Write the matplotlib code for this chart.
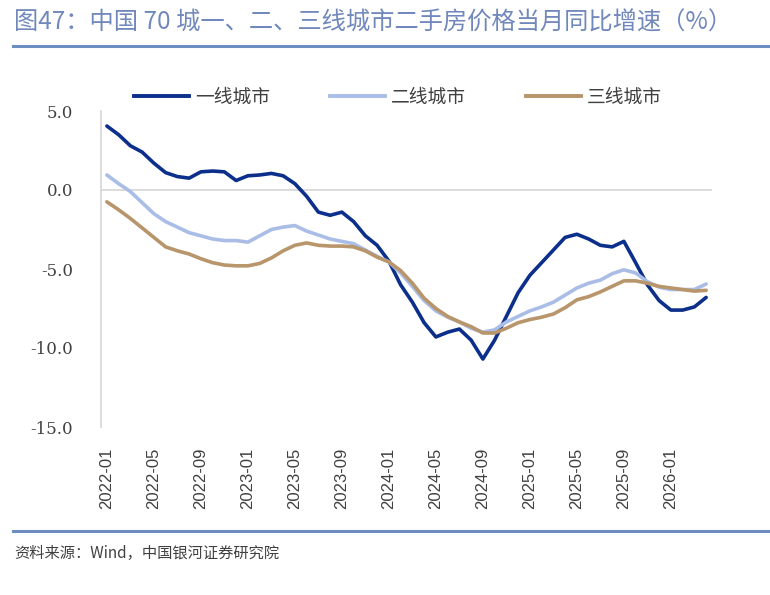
import matplotlib
matplotlib.use("Agg")
import matplotlib.pyplot as plt
from matplotlib.lines import Line2D

plt.rcParams['font.family'] = ['Noto Sans CJK SC', 'DejaVu Sans']

months = [f"{y}-{m:02d}" for y in range(2022, 2027) for m in range(1, 13)][:52]
tick_labels = ["2022-01", "2022-05", "2022-09", "2023-01", "2023-05", "2023-09",
               "2024-01", "2024-05", "2024-09", "2025-01", "2025-05", "2025-09", "2026-01"]

tier1 = [4.05, 3.5, 2.8, 2.4, 1.7, 1.1, 0.85, 0.75, 1.15, 1.2, 1.15, 0.6, 0.9, 0.95, 1.05, 0.9,
         0.4, -0.4, -1.4, -1.6, -1.4, -2.0, -2.9, -3.5, -4.5, -6.0, -7.1, -8.4, -9.3, -9.0, -8.8,
         -9.5, -10.7, -9.5, -8.0, -6.5, -5.4, -4.6, -3.8, -3.0, -2.8, -3.1, -3.5, -3.6, -3.25,
         -4.6, -6.0, -7.0, -7.6, -7.6, -7.4, -6.8]
tier2 = [0.95, 0.4, -0.1, -0.8, -1.5, -2.0, -2.35, -2.7, -2.9, -3.1, -3.2, -3.2, -3.3, -2.9,
         -2.5, -2.35, -2.25, -2.6, -2.85, -3.1, -3.25, -3.4, -3.8, -4.2, -4.55, -5.25, -6.1,
         -7.0, -7.65, -8.05, -8.35, -8.75, -9.0, -8.85, -8.35, -8.0, -7.65, -7.4, -7.1, -6.65,
         -6.2, -5.9, -5.7, -5.3, -5.05, -5.25, -5.8, -6.15, -6.3, -6.3, -6.3, -5.95]
tier3 = [-0.75, -1.25, -1.8, -2.4, -3.0, -3.6, -3.85, -4.05, -4.35, -4.6, -4.75, -4.8, -4.8,
         -4.65, -4.3, -3.85, -3.5, -3.35, -3.5, -3.55, -3.55, -3.6, -3.85, -4.25, -4.55, -5.1,
         -5.9, -6.85, -7.5, -8.0, -8.35, -8.65, -9.05, -9.05, -8.75, -8.4, -8.2, -8.05, -7.85,
         -7.45, -6.95, -6.75, -6.45, -6.1, -5.75, -5.75, -5.9, -6.1, -6.2, -6.3, -6.4, -6.35]

names = ["一线城市", "二线城市", "三线城市"]
colors = ["#0b2f8a", "#a9bde6", "#b8956a"]

fig = plt.figure(figsize=(7.7, 5.95), dpi=100)
ax = fig.add_axes([101/770, 1-427/595, (712-101)/770, (427-111)/595])

x = list(range(len(months)))
for vals, c, n in zip([tier1, tier2, tier3], colors, names):
    ax.plot(x, vals, color=c, lw=2.6, label=n, solid_capstyle='round', solid_joinstyle='round')

ax.set_xlim(-0.5, len(months) - 0.5)
ax.set_ylim(-15, 5)
ax.axhline(0, color="#d9d9d9", lw=1.3, zorder=0)
ax.set_yticks([5, 0, -5, -10, -15])
ax.set_yticklabels(["5.0", "0.0", "-5.0", "-10.0", "-15.0"], family="DejaVu Serif",
                   fontsize=12, color="#404040")
tick_pos = [months.index(t) for t in tick_labels]
ax.set_xticks(tick_pos)
ax.set_xticklabels(tick_labels, rotation=90, fontsize=12, color="#404040",
                   family=["Liberation Sans", "DejaVu Sans"])
ax.tick_params(axis='x', length=0, pad=15)
ax.tick_params(axis='y', length=0, pad=20)
for s in ["top", "right", "bottom"]:
    ax.spines[s].set_visible(False)
ax.spines["left"].set_color("#d9d9d9")
ax.spines["left"].set_linewidth(1.3)

handles = [Line2D([0], [0], color=c, lw=2.8) for c in colors]
fig.legend(handles, names, loc="center", bbox_to_anchor=(398/770, 1-97/595), ncol=3,
           frameon=False, fontsize=13.5, handlelength=2.95, columnspacing=3.2,
           handletextpad=0.3, labelcolor="#404040")

fig.text(14/770, 1-23/595, "图47：中国 70 城一、二、三线城市二手房价格当月同比增速（%）",
         fontsize=17.5, color="#7088bb", va="center", ha="left")
fig.add_artist(Line2D([13/770, 778/770], [1-46/595, 1-46/595], color="#6d8cc0", lw=2.2))
fig.add_artist(Line2D([13/770, 770/770], [1-531/595, 1-531/595], color="#6d8cc0", lw=2.2))
fig.text(14/770, 1-553/595, "资料来源：Wind，中国银河证券研究院", fontsize=11,
         color="#404040", va="center", ha="left", style="italic")

fig.savefig("out.png", dpi=100)
